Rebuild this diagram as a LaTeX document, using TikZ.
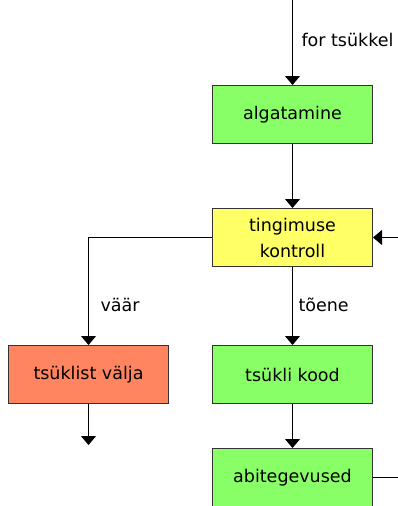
\documentclass[tikz,border=0pt]{standalone}
\usepackage{fontspec}
\setmainfont{DejaVu Sans}
\usetikzlibrary{arrows.meta,positioning}
\definecolor{boxgreen}{RGB}{136,255,102}
\definecolor{boxyellow}{RGB}{255,255,102}
\definecolor{boxorange}{RGB}{255,133,96}
\tikzset{
  every picture/.append style={line width=1pt},
  every node/.append style={font=\fontsize{17.5}{26}\selectfont},
}

\begin{document}
\begin{tikzpicture}[
  action/.style={rectangle, draw=black!80, fill=boxgreen,
                 minimum width=160pt, minimum height=58pt,
                 align=center, inner sep=2pt},
  check/.style={action, fill=boxyellow},
  leave/.style={action, fill=boxorange},
  arrow/.style={-{Triangle[length=9pt,width=15pt]}, draw=black},
  note/.style={anchor=west, inner sep=0pt}
]
\useasboundingbox (0,0) rectangle (398pt,-506pt);

% Loop blocks
\node[action] (init) at (292.5pt,-114.5pt) {algatamine};
\node[check, below=64pt of init] (cond) {tingimuse\\kontroll};
\node[action, below=78pt of cond] (body) {tsükli kood};
\node[action, below=44pt of body] (update) {abitegevused};
\node[leave, left=43pt of body] (out) {tsüklist välja};

% Free ends
\coordinate (start) at (init.north |- 0,0);
\coordinate (back) at (398pt,0 |- cond.east);
\coordinate (after) at ([yshift=-41pt]out.south);
\coordinate (loop) at (398pt,0 |- update.east);

% Flow arrows
\draw[arrow] (start) -- (init.north);
\draw[arrow] (init.south) -- (cond.north);
\draw[arrow] (cond.south) -- (body.north);
\draw[arrow] (body.south) -- (update.north);
\draw[arrow] (cond.west) -| (out.north);
\draw[arrow] (out.south) -- (after);
\draw[arrow] (back) -- (cond.east);
\draw (update.east) -- (loop);

% Labels
\node[note] (fortext) at (301pt,-40pt) {for tsükkel};
\node[note] (falsetext) at (100pt,-305pt) {väär};
\node[note] (truetext) at (298pt,-305pt) {tõene};

\end{tikzpicture}
\end{document}
